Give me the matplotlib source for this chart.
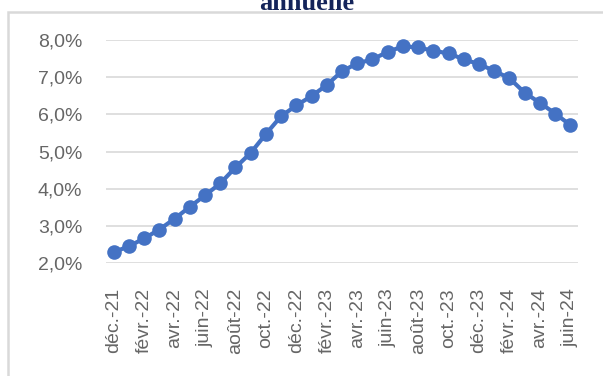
import matplotlib.pyplot as plt
from matplotlib.patches import Rectangle

months = ["déc.-21", "janv.-22", "févr.-22", "mars-22", "avr.-22", "mai-22", "juin-22",
          "juil.-22", "août-22", "sept.-22", "oct.-22", "nov.-22", "déc.-22",
          "janv.-23", "févr.-23", "mars-23", "avr.-23", "mai-23", "juin-23",
          "juil.-23", "août-23", "sept.-23", "oct.-23", "nov.-23", "déc.-23",
          "janv.-24", "févr.-24", "mars-24", "avr.-24", "mai-24", "juin-24"]
rate = [2.29, 2.45, 2.66, 2.90, 3.19, 3.51, 3.82, 4.14, 4.57, 4.96, 5.47,
        5.95, 6.24, 6.49, 6.79, 7.16, 7.37, 7.48, 7.68, 7.83, 7.80, 7.71,
        7.64, 7.48, 7.35, 7.17, 6.97, 6.58, 6.31, 6.02, 5.71]
yticks = [2, 3, 4, 5, 6, 7, 8]

W, H = 603, 376
fig = plt.figure(figsize=(W / 100, H / 100), dpi=100)

# chart frame
fig.patches.append(Rectangle((8 / W, -0.1), 1.0, 1 - 12 / H + 0.1, transform=fig.transFigure,
                             fill=False, edgecolor="#d9d9d9", linewidth=1.8))

# title, cut off at the top
fig.text(307 / W, 1 - 10 / H, "annuelle", ha="center", va="baseline", fontsize=19,
         fontweight="bold", family="Liberation Serif", color="#14245a")

ax = fig.add_axes([106 / W, 1 - 263 / H, (578 - 106) / W, (263 - 40) / H])
x = list(range(len(months)))
ax.plot(x, rate, color="#4472c4", linewidth=3, marker="o", markersize=10.5,
        markeredgewidth=0, zorder=3, clip_on=False)

ax.set_xlim(-0.5, len(months) - 0.5)
ax.set_ylim(2, 8)
ax.set_yticks(yticks)
ax.set_yticklabels([f"{v},0%" for v in yticks])
ax.set_xticks(x[::2])
ax.set_xticklabels(months[::2], rotation=90)
ax.grid(axis="y", color="#d9d9d9", linewidth=1.2)
ax.set_axisbelow(True)
for s in ax.spines.values():
    s.set_visible(False)
ax.tick_params(length=0, colors="#666666", labelsize=14)
for lab in ax.get_xticklabels() + ax.get_yticklabels():
    lab.set_family("Liberation Sans")
ax.tick_params(axis="y", pad=17)
ax.tick_params(axis="x", pad=18)

fig.savefig("out.png", dpi=100)
